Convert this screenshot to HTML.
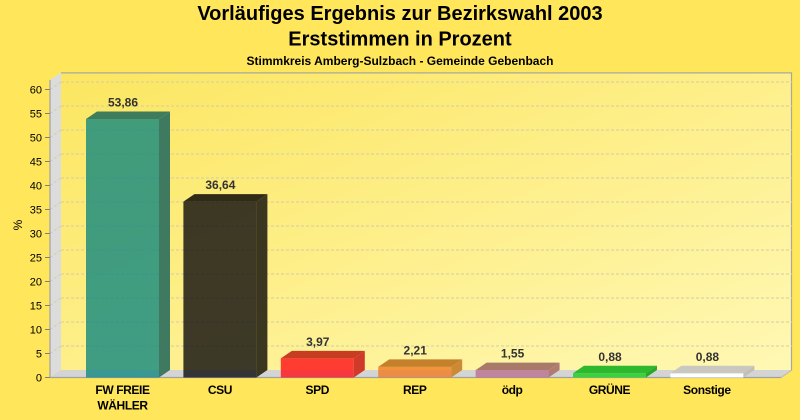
<!DOCTYPE html>
<html><head><meta charset="utf-8"><style>
html,body{margin:0;padding:0;background:#FFE65A;}
svg{display:block;font-family:"Liberation Sans",Arial,sans-serif;}
</style></head><body>
<svg width="800" height="420" viewBox="0 0 800 420" xmlns="http://www.w3.org/2000/svg">
<defs>
<linearGradient id="wall" x1="0" y1="0" x2="1" y2="1">
<stop offset="0" stop-color="#FCE660"/>
<stop offset="1" stop-color="#FFF8B4"/>
</linearGradient>
</defs>
<rect width="800" height="420" fill="#FFE65A"/>
<!-- titles -->
<text x="400" y="20" text-anchor="middle" font-size="20" font-weight="bold" fill="#000">Vorläufiges Ergebnis zur Bezirkswahl 2003</text>
<text x="400" y="45.5" text-anchor="middle" font-size="20" font-weight="bold" fill="#000">Erststimmen in Prozent</text>
<text x="400" y="65" text-anchor="middle" font-size="12" font-weight="bold" fill="#000">Stimmkreis Amberg-Sulzbach - Gemeinde Gebenbach</text>

<!-- back wall -->
<rect x="61" y="72.4" width="731" height="297.6" fill="url(#wall)"/>
<polyline points="61,72.9 791.5,72.9 791.5,370" fill="none" stroke="#A8A8A0" stroke-width="1.2"/>
<!-- left wall -->
<polygon points="50,79.9 61,72.4 61,370 50,377.5" fill="#DCDCDC"/>
<!-- floor -->
<polygon points="50,377.5 61,370 792,370 781,377.5" fill="#D4D4D4"/>

<!-- gridlines -->
<g stroke="#D2CCA8" stroke-width="1" stroke-dasharray="3,2" fill="none">
<line x1="61" y1="346" x2="792" y2="346"/><line x1="50" y1="353.5" x2="61" y2="346"/>
<line x1="61" y1="322" x2="792" y2="322"/><line x1="50" y1="329.5" x2="61" y2="322"/>
<line x1="61" y1="298" x2="792" y2="298"/><line x1="50" y1="305.5" x2="61" y2="298"/>
<line x1="61" y1="274" x2="792" y2="274"/><line x1="50" y1="281.5" x2="61" y2="274"/>
<line x1="61" y1="250" x2="792" y2="250"/><line x1="50" y1="257.5" x2="61" y2="250"/>
<line x1="61" y1="226" x2="792" y2="226"/><line x1="50" y1="233.5" x2="61" y2="226"/>
<line x1="61" y1="202" x2="792" y2="202"/><line x1="50" y1="209.5" x2="61" y2="202"/>
<line x1="61" y1="178" x2="792" y2="178"/><line x1="50" y1="185.5" x2="61" y2="178"/>
<line x1="61" y1="154" x2="792" y2="154"/><line x1="50" y1="161.5" x2="61" y2="154"/>
<line x1="61" y1="130" x2="792" y2="130"/><line x1="50" y1="137.5" x2="61" y2="130"/>
<line x1="61" y1="106" x2="792" y2="106"/><line x1="50" y1="113.5" x2="61" y2="106"/>
<line x1="61" y1="82" x2="792" y2="82"/><line x1="50" y1="89.5" x2="61" y2="82"/>
</g>

<!-- axis lines -->
<line x1="50" y1="79.9" x2="50" y2="377.5" stroke="#A0A0A0" stroke-width="1.2"/>
<line x1="50" y1="377.5" x2="781" y2="377.5" stroke="#A0A0A0" stroke-width="1.2"/>
<line x1="781" y1="377.5" x2="792" y2="370" stroke="#B8B8B0" stroke-width="1"/>

<!-- y ticks -->
<g stroke="#808080" stroke-width="1">
<line x1="45" y1="377.5" x2="50" y2="377.5"/><line x1="45" y1="353.5" x2="50" y2="353.5"/>
<line x1="45" y1="329.5" x2="50" y2="329.5"/><line x1="45" y1="305.5" x2="50" y2="305.5"/>
<line x1="45" y1="281.5" x2="50" y2="281.5"/><line x1="45" y1="257.5" x2="50" y2="257.5"/>
<line x1="45" y1="233.5" x2="50" y2="233.5"/><line x1="45" y1="209.5" x2="50" y2="209.5"/>
<line x1="45" y1="185.5" x2="50" y2="185.5"/><line x1="45" y1="161.5" x2="50" y2="161.5"/>
<line x1="45" y1="137.5" x2="50" y2="137.5"/><line x1="45" y1="113.5" x2="50" y2="113.5"/>
<line x1="45" y1="89.5" x2="50" y2="89.5"/>
</g>
<g font-size="11" fill="#000" text-anchor="end">
<text x="42" y="381.5">0</text><text x="42" y="357.5">5</text>
<text x="42" y="333.5">10</text><text x="42" y="309.5">15</text>
<text x="42" y="285.5">20</text><text x="42" y="261.5">25</text>
<text x="42" y="237.5">30</text><text x="42" y="213.5">35</text>
<text x="42" y="189.5">40</text><text x="42" y="165.5">45</text>
<text x="42" y="141.5">50</text><text x="42" y="117.5">55</text>
<text x="42" y="93.5">60</text>
</g>
<text x="0" y="0" font-size="12" fill="#000" text-anchor="middle" transform="translate(22,225) rotate(-90)">%</text>

<!-- bars -->
<!-- FW -->
<g>
<rect x="86" y="119" width="73" height="258.5" fill="rgb(17,136,128)" fill-opacity="0.8"/>
<polygon points="86,119 97,111.5 170,111.5 159,119" fill="#3E7C5C"/>
<polygon points="159,119 170,111.5 170,370 159,377.5" fill="#3F7A60"/>
</g>
<!-- CSU -->
<g>
<rect x="183.4" y="201.6" width="73" height="175.9" fill="rgb(13,11,12)" fill-opacity="0.8"/>
<polygon points="183.4,201.6 194.4,194.1 267.4,194.1 256.4,201.6" fill="#2F2B16"/>
<polygon points="256.4,201.6 267.4,194.1 267.4,370 256.4,377.5" fill="#3A3620"/>
</g>
<!-- SPD -->
<g>
<rect x="280.8" y="358.4" width="73" height="19.1" fill="rgb(255,14,22)" fill-opacity="0.8"/>
<polygon points="280.8,358.4 291.8,350.9 364.8,350.9 353.8,358.4" fill="#C83C22"/>
<polygon points="353.8,358.4 364.8,350.9 364.8,370 353.8,377.5" fill="#D03A2A"/>
</g>
<!-- REP -->
<g>
<rect x="378.2" y="366.9" width="73" height="10.6" fill="rgb(240,122,35)" fill-opacity="0.8"/>
<polygon points="378.2,366.9 389.2,359.4 462.2,359.4 451.2,366.9" fill="#C4802A"/>
<polygon points="451.2,366.9 462.2,359.4 462.2,370 451.2,377.5" fill="#CC8A34"/>
</g>
<!-- ödp -->
<g>
<rect x="475.6" y="370.1" width="73" height="7.4" fill="rgb(187,111,142)" fill-opacity="0.8"/>
<polygon points="475.6,370.1 486.6,362.6 559.6,362.6 548.6,370.1" fill="#A87A6A"/>
<polygon points="548.6,370.1 559.6,362.6 559.6,370 548.6,377.5" fill="#B07C72"/>
</g>
<!-- GRÜNE -->
<g>
<rect x="573" y="373.3" width="73" height="4.2" fill="#3AD23A"/>
<polygon points="573,373.3 584,365.8 657,365.8 646,373.3" fill="#2DB82D"/>
<polygon points="646,373.3 657,365.8 657,370 646,377.5" fill="#28A828"/>
</g>
<!-- Sonstige -->
<g>
<rect x="670.4" y="373.3" width="73" height="4.2" fill="#FFFFFF"/>
<polygon points="670.4,373.3 681.4,365.8 754.4,365.8 743.4,373.3" fill="#C8C8C0"/>
<polygon points="743.4,373.3 754.4,365.8 754.4,370 743.4,377.5" fill="#C0C0B8"/>
</g>

<!-- value labels -->
<g font-size="12" font-weight="bold" fill="#333" text-anchor="middle">
<text x="123" y="106.5">53,86</text>
<text x="220.4" y="189.1">36,64</text>
<text x="317.8" y="345.9">3,97</text>
<text x="415.2" y="354.4">2,21</text>
<text x="512.6" y="357.6">1,55</text>
<text x="610" y="360.8">0,88</text>
<text x="707.4" y="360.8">0,88</text>
</g>

<!-- category labels -->
<g font-size="12" font-weight="bold" fill="#000" text-anchor="middle" letter-spacing="-0.4">
<text x="122.5" y="394">FW FREIE</text>
<text x="122.5" y="409.5">WÄHLER</text>
<text x="219.9" y="394">CSU</text>
<text x="317.3" y="394">SPD</text>
<text x="414.7" y="394">REP</text>
<text x="512.1" y="394">ödp</text>
<text x="609.5" y="394">GRÜNE</text>
<text x="706.9" y="394">Sonstige</text>
</g>
</svg>
</body></html>
